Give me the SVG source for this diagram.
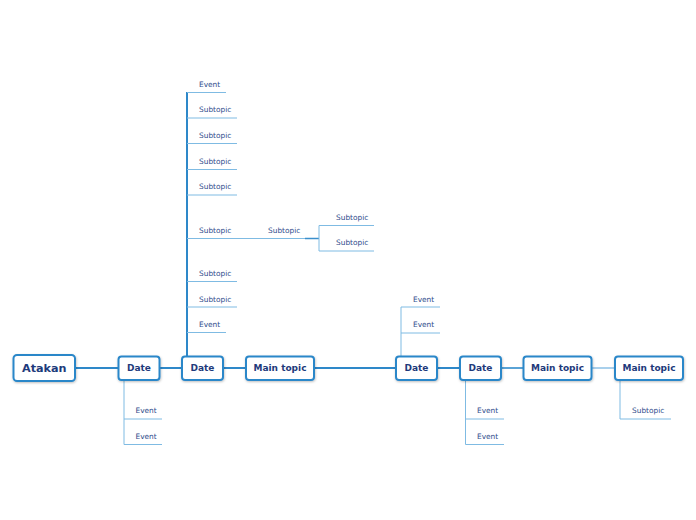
<svg xmlns="http://www.w3.org/2000/svg" width="696" height="520" viewBox="0 0 696 520">
<defs>
<filter id="sh" x="-20%" y="-20%" width="140%" height="150%"><feDropShadow dx="0.5" dy="1" stdDeviation="0.8" flood-color="#000" flood-opacity="0.25"/></filter>
</defs>
<style>
.box{fill:#fff;stroke:#2b87c9;stroke-width:2;filter:url(#sh)}
.nt{font-family:"DejaVu Sans",Verdana,sans-serif;font-weight:bold;font-size:9px;fill:#1e3a7b;text-anchor:middle}
.big{font-size:11.2px}
.st{font-family:"DejaVu Sans",Verdana,sans-serif;font-size:7.4px;fill:#2f4c8c}
.main{stroke:#2e88c9;stroke-width:2;fill:none}
.thin{stroke:#7fbbe3;stroke-width:1;fill:none}
</style>
<rect width="696" height="520" fill="#fff"/>
<g id="connectors">
<path class="main" d="M75 368H118M159 368H182M222 368H246M314 368H396M437 368H460"/>
<path d="M500 368H524" stroke="#5aa3d6" stroke-width="2" fill="none"/>
<path d="M591 368H615" stroke="#a9d0ec" stroke-width="2" fill="none"/>
<path class="main" d="M187 356V92"/>
<path class="thin" d="M187 92.5H226M187 118H237M187 143.5H237M187 169.5H237M187 195H237M187 238.5H305M187 281.5H237M187 307H237M187 332.5H226"/>
<path d="M305 238.5H319" stroke="#3a8fcc" stroke-width="1.5" fill="none"/>
<path class="thin" d="M319 225.5V251M319 225.5H374M319 251H374"/>
<path class="thin" d="M124 380V444.5M124 419H162M124 444.5H162"/>
<path class="thin" d="M401 356V307M401 307H440M401 333H440"/>
<path class="thin" d="M465.5 380V444.5M465.5 419H504M465.5 444.5H504"/>
<path class="thin" d="M620 380V419M620 419H671"/>
</g>
<g id="atakan"><rect class="box" x="13.5" y="355" width="61.5" height="26" rx="3.5"/><text class="nt big" x="44.3" y="372">Atakan</text></g>
<g id="date1"><rect class="box" x="118.5" y="356.5" width="41" height="23.5" rx="3"/><text class="nt" x="139" y="371.3">Date</text></g>
<g id="date2"><rect class="box" x="182" y="356.5" width="41" height="23.5" rx="3"/><text class="nt" x="202.5" y="371.3">Date</text></g>
<g id="main1"><rect class="box" x="246" y="356.5" width="68" height="23.5" rx="3"/><text class="nt" x="280" y="371.3">Main topic</text></g>
<g id="date3"><rect class="box" x="396" y="356.5" width="41" height="23.5" rx="3"/><text class="nt" x="416.5" y="371.3">Date</text></g>
<g id="date4"><rect class="box" x="460" y="356.5" width="41" height="23.5" rx="3"/><text class="nt" x="480.5" y="371.3">Date</text></g>
<g id="main2"><rect class="box" x="523.5" y="356.5" width="68" height="23.5" rx="3"/><text class="nt" x="557.5" y="371.3">Main topic</text></g>
<g id="main3"><rect class="box" x="615" y="356.5" width="68" height="23.5" rx="3"/><text class="nt" x="649" y="371.3">Main topic</text></g>
<g id="d2-event1"><text class="st" x="199" y="87">Event</text></g>
<g id="d2-sub1"><text class="st" x="199" y="112">Subtopic</text></g>
<g id="d2-sub2"><text class="st" x="199" y="138">Subtopic</text></g>
<g id="d2-sub3"><text class="st" x="199" y="164">Subtopic</text></g>
<g id="d2-sub4"><text class="st" x="199" y="189">Subtopic</text></g>
<g id="d2-sub5"><text class="st" x="199" y="233">Subtopic</text></g>
<g id="d2-sub5-sub"><text class="st" x="268" y="233">Subtopic</text></g>
<g id="d2-sub5-sub-a"><text class="st" x="336" y="220">Subtopic</text></g>
<g id="d2-sub5-sub-b"><text class="st" x="336" y="245">Subtopic</text></g>
<g id="d2-sub6"><text class="st" x="199" y="276">Subtopic</text></g>
<g id="d2-sub7"><text class="st" x="199" y="302">Subtopic</text></g>
<g id="d2-event2"><text class="st" x="199" y="327">Event</text></g>
<g id="d1-event1"><text class="st" x="135.5" y="413">Event</text></g>
<g id="d1-event2"><text class="st" x="135.5" y="439">Event</text></g>
<g id="d3-event1"><text class="st" x="413" y="302">Event</text></g>
<g id="d3-event2"><text class="st" x="413" y="327">Event</text></g>
<g id="d4-event1"><text class="st" x="477" y="413">Event</text></g>
<g id="d4-event2"><text class="st" x="477" y="439">Event</text></g>
<g id="m3-sub"><text class="st" x="632" y="413">Subtopic</text></g>
</svg>
